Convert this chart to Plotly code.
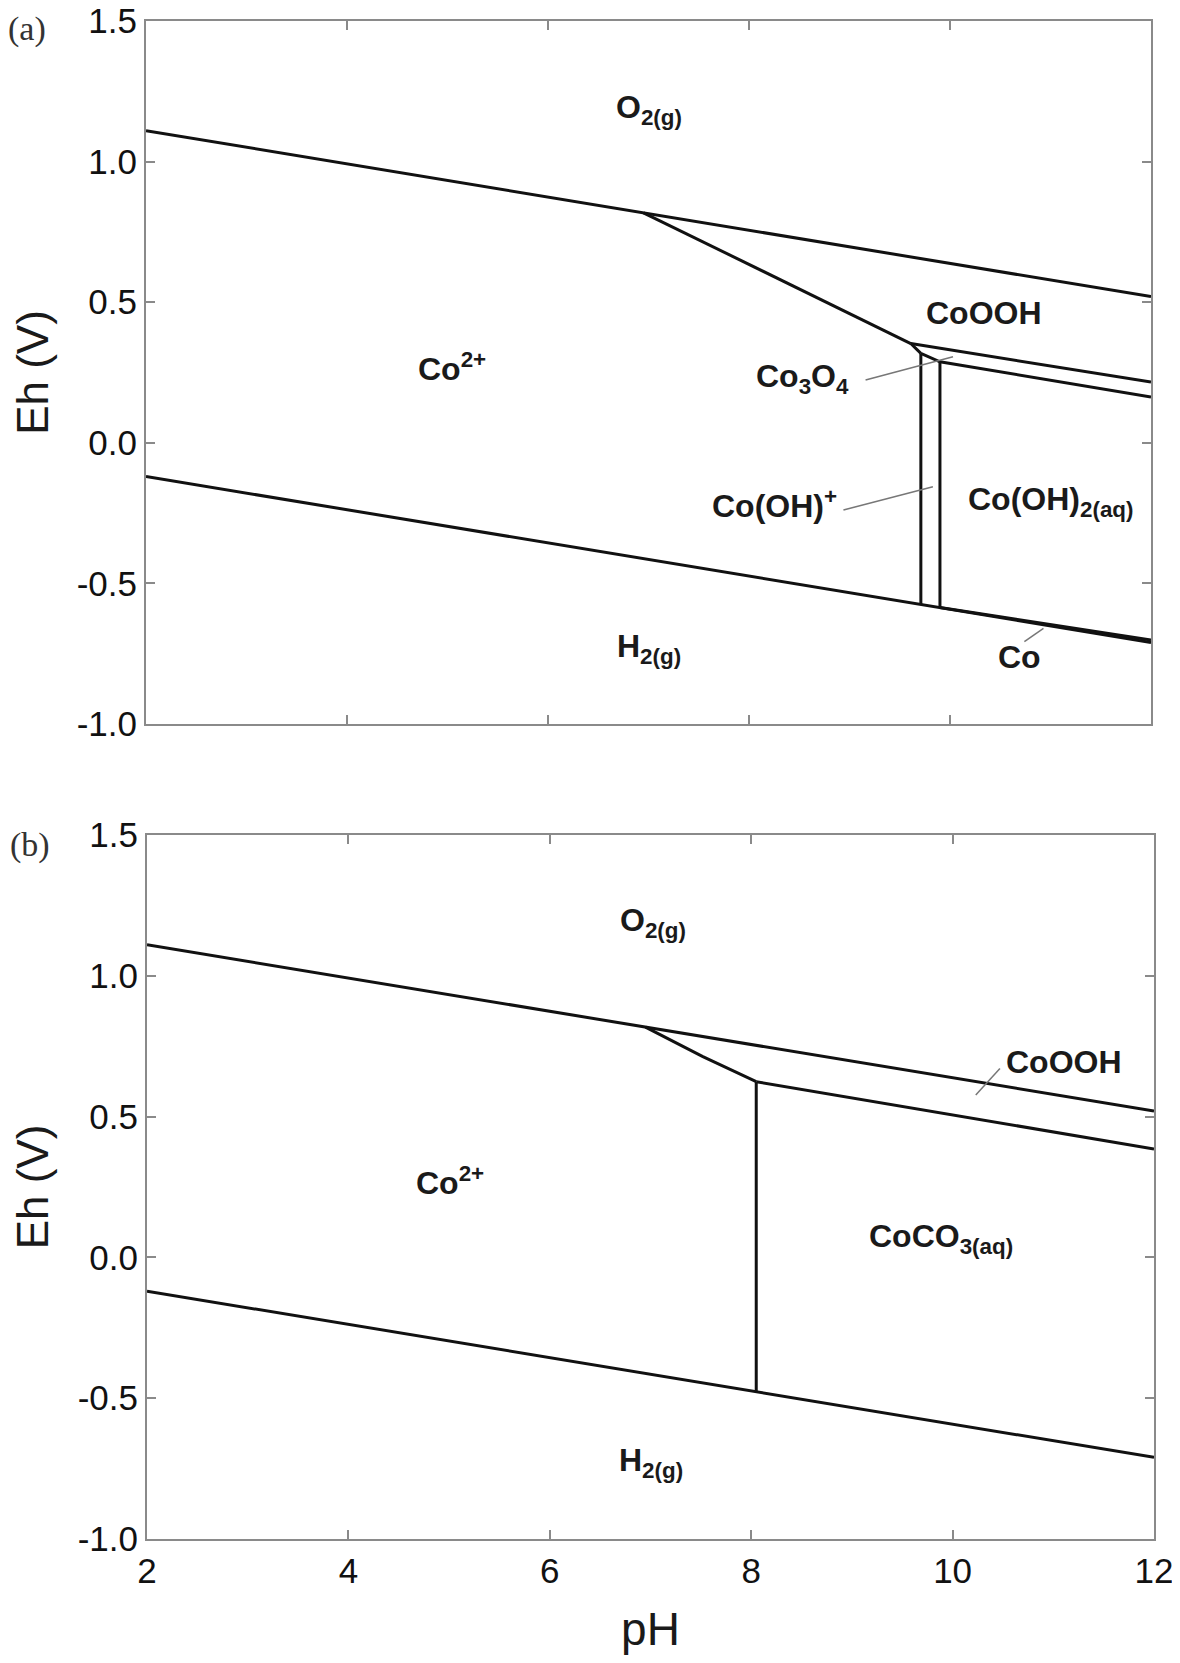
import plotly.graph_objects as go

# ---------------- data ----------------
ph_range = [2, 12]
o2_line_eh = [1.11, 0.52]
h2_line_eh = [-0.12, -0.71]

# panel (a)
a_co2_coooh_ph = [6.95, 9.61]
a_co2_coooh_eh = [0.818, 0.353]
a_coooh_co3o4_ph = [9.61, 12]
a_coooh_co3o4_eh = [0.353, 0.216]
a_co2_co3o4_ph = [9.61, 9.71]
a_co2_co3o4_eh = [0.353, 0.318]
a_co3o4_low_ph = [9.71, 9.90, 12]
a_co3o4_low_eh = [0.318, 0.288, 0.163]
a_vert1_ph = [9.71, 9.71]
a_vert1_eh = [0.318, -0.575]
a_vert2_ph = [9.90, 9.90]
a_vert2_eh = [0.288, -0.586]
a_co_ph = [9.90, 12]
a_co_eh = [-0.586, -0.701]

a_leaders = [
    ([9.16, 10.03], [0.223, 0.306]),
    ([8.94, 9.83], [-0.239, -0.156]),
    ([10.74, 10.93], [-0.707, -0.66]),
]
a_labels = [
    ("O<sub>2(g)</sub>", 7.0, 1.185),
    ("Co<sup>2+</sup>", 5.04, 0.27),
    ("CoOOH", 10.34, 0.463),
    ("Co<sub>3</sub>O<sub>4</sub>", 8.53, 0.23),
    ("Co(OH)<sup>+</sup>", 8.25, -0.217),
    ("Co(OH)<sub>2(aq)</sub>", 11.0, -0.21),
    ("H<sub>2(g)</sub>", 7.0, -0.73),
    ("Co", 10.69, -0.761),
]

# panel (b)
b_co2_coooh_ph = [6.95, 7.52, 8.05]
b_co2_coooh_eh = [0.818, 0.713, 0.624]
b_coooh_coco3_ph = [8.05, 12]
b_coooh_coco3_eh = [0.624, 0.385]
b_vert_ph = [8.05, 8.05]
b_vert_eh = [0.624, -0.477]

b_leaders = [
    ([10.23, 10.47], [0.577, 0.671]),
]
b_labels = [
    ("O<sub>2(g)</sub>", 7.02, 1.19),
    ("Co<sup>2+</sup>", 5.01, 0.27),
    ("CoOOH", 11.11, 0.695),
    ("CoCO<sub>3(aq)</sub>", 9.88, 0.068),
    ("H<sub>2(g)</sub>", 7.0, -0.73),
]

x_ticks = [2, 4, 6, 8, 10, 12]
y_ticks = [-1.0, -0.5, 0.0, 0.5, 1.0, 1.5]
y_ticktext = ["-1.0", "-0.5", "0.0", "0.5", "1.0", "1.5"]

# ---------------- figure ----------------
OFF = 8                      # page body margin
W, H = 1180 - 2 * OFF, 1663 - 2 * OFF
LINE = dict(color="#111111", width=3)
LEAD = dict(color="#777777", width=1.5)
FONT = "Liberation Sans, Arial, sans-serif"


def px_x(p):
    return (p - OFF) / W


def px_y(p):
    return 1 - (p - OFF) / H


fig = go.Figure()


def add_line(x, y, xa, ya, style=LINE):
    fig.add_trace(go.Scatter(x=x, y=y, mode="lines", line=style,
                             xaxis=xa, yaxis=ya, showlegend=False,
                             hoverinfo="skip"))


for xa, ya in [("x", "y"), ("x2", "y2")]:
    add_line(ph_range, o2_line_eh, xa, ya)
    add_line(ph_range, h2_line_eh, xa, ya)

add_line(a_co2_coooh_ph, a_co2_coooh_eh, "x", "y")
add_line(a_coooh_co3o4_ph, a_coooh_co3o4_eh, "x", "y")
add_line(a_co2_co3o4_ph, a_co2_co3o4_eh, "x", "y")
add_line(a_co3o4_low_ph, a_co3o4_low_eh, "x", "y")
add_line(a_vert1_ph, a_vert1_eh, "x", "y")
add_line(a_vert2_ph, a_vert2_eh, "x", "y")
add_line(a_co_ph, a_co_eh, "x", "y")
for lx, ly in a_leaders:
    add_line(lx, ly, "x", "y", LEAD)

add_line(b_co2_coooh_ph, b_co2_coooh_eh, "x2", "y2")
add_line(b_coooh_coco3_ph, b_coooh_coco3_eh, "x2", "y2")
add_line(b_vert_ph, b_vert_eh, "x2", "y2")
for lx, ly in b_leaders:
    add_line(lx, ly, "x2", "y2", LEAD)

LABEL_FONT = dict(family=FONT, size=32, color="#1a1a1a")
annotations = []
for txt, x, y in a_labels:
    annotations.append(dict(text="<b>" + txt + "</b>", x=x, y=y, xref="x", yref="y",
                            showarrow=False, xanchor="center", yanchor="middle",
                            font=LABEL_FONT))
for txt, x, y in b_labels:
    annotations.append(dict(text="<b>" + txt + "</b>", x=x, y=y, xref="x2", yref="y2",
                            showarrow=False, xanchor="center", yanchor="middle",
                            font=LABEL_FONT))

SERIF = dict(family="Liberation Serif, Times New Roman, serif", size=34, color="#333333")
annotations.append(dict(text="(a)", x=px_x(27), y=px_y(29), xref="paper", yref="paper",
                        showarrow=False, xanchor="center", yanchor="middle", font=SERIF))
annotations.append(dict(text="(b)", x=px_x(30), y=px_y(845), xref="paper", yref="paper",
                        showarrow=False, xanchor="center", yanchor="middle", font=SERIF))

axis_common = dict(showgrid=False, zeroline=False, showline=True, automargin=False,
                   linecolor="#8a8a8a", linewidth=2, mirror="ticks",
                   ticks="inside", ticklen=9, tickwidth=1.5, tickcolor="#8a8a8a",
                   ticklabeloverflow="allow",
                   tickfont=dict(family=FONT, size=35, color="#111111"))

fig.update_layout(
    width=W, height=H,
    margin=dict(l=0, r=0, t=0, b=0, autoexpand=False),
    paper_bgcolor="white", plot_bgcolor="white",
    showlegend=False,
    annotations=annotations,
    xaxis=dict(domain=[px_x(146), px_x(1151)], range=[2, 12], anchor="y",
               tickvals=x_ticks, showticklabels=False, **axis_common),
    yaxis=dict(domain=[px_y(724), px_y(21)], range=[-1.0, 1.5], anchor="x",
               tickvals=y_ticks, ticktext=y_ticktext,
               title=dict(text="Eh (V)", font=dict(family=FONT, size=44, color="#1a1a1a"),
                          standoff=29),
               **axis_common),
    xaxis2=dict(domain=[px_x(147), px_x(1154)], range=[2, 12], anchor="y2",
                tickvals=x_ticks,
                title=dict(text="pH", font=dict(family=FONT, size=46, color="#1a1a1a"),
                           standoff=27),
                **axis_common),
    yaxis2=dict(domain=[px_y(1539), px_y(835)], range=[-1.0, 1.5], anchor="x2",
                tickvals=y_ticks, ticktext=y_ticktext,
                title=dict(text="Eh (V)", font=dict(family=FONT, size=44, color="#1a1a1a"),
                           standoff=29),
                **axis_common),
)

fig.write_html("out.html")
